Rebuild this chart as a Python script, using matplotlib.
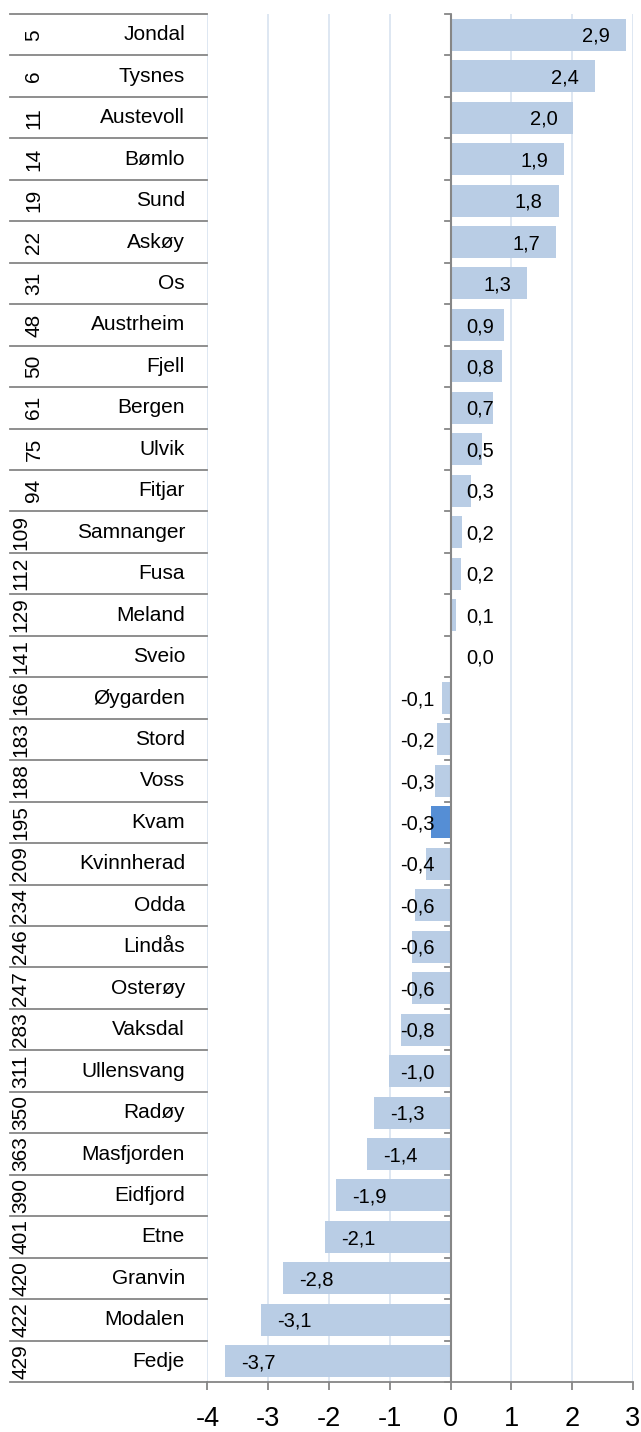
import matplotlib
matplotlib.use("Agg")
import matplotlib.pyplot as plt
import matplotlib.transforms as mtransforms

plt.rcParams['font.family'] = ['Liberation Sans', 'DejaVu Sans']

#--- data ---#
ranks = [5, 6, 11, 14, 19, 22, 31, 48, 50, 61, 75, 94, 109, 112, 129, 141, 166,
         183, 188, 195, 209, 234, 246, 247, 283, 311, 350, 363, 390, 401, 420, 422, 429]
names = ["Jondal", "Tysnes", "Austevoll", "Bømlo", "Sund", "Askøy", "Os", "Austrheim",
         "Fjell", "Bergen", "Ulvik", "Fitjar", "Samnanger", "Fusa", "Meland", "Sveio",
         "Øygarden", "Stord", "Voss", "Kvam", "Kvinnherad", "Odda", "Lindås", "Osterøy",
         "Vaksdal", "Ullensvang", "Radøy", "Masfjorden", "Eidfjord", "Etne", "Granvin",
         "Modalen", "Fedje"]
values = [2.88, 2.37, 2.02, 1.87, 1.78, 1.73, 1.26, 0.87, 0.84, 0.69, 0.52, 0.33, 0.19,
          0.17, 0.09, 0.0, -0.14, -0.23, -0.26, -0.32, -0.41, -0.59, -0.64, -0.64, -0.82,
          -1.02, -1.26, -1.37, -1.88, -2.06, -2.76, -3.12, -3.71]
highlight = "Kvam"
xticks = [-4, -3, -2, -1, 0, 1, 2, 3]

#--- colours ---#
bar_col = "#b9cde5"
hl_col = "#558ed5"
grid_col = "#dbe5f1"
line_col = "#868686"

W, H = 641, 1432
L, R, T, B = 207.5, 633, 14, 1382

fig = plt.figure(figsize=(W / 100, H / 100), dpi=100)
ax = fig.add_axes([L / W, 1 - B / H, (R - L) / W, (B - T) / H])

def px_to_ax(px):
    return (px - L) / (R - L)

n = len(names)
ypos = list(range(n))
colors = [hl_col if nm == highlight else bar_col for nm in names]
ax.barh(ypos, values, height=0.77, color=colors, zorder=2)

ax.set_xlim(xticks[0], xticks[-1])
ax.set_ylim(n - 0.5, -0.5)

# gridlines
ax.set_xticks(xticks)
ax.set_xticklabels([str(x) for x in xticks])
ax.grid(axis='x', color=grid_col, lw=1.3, zorder=0)
ax.set_axisbelow(True)

for s in ['left', 'right', 'top']:
    ax.spines[s].set_visible(False)
ax.spines['bottom'].set_color(line_col)
ax.spines['bottom'].set_linewidth(1.3)
ax.tick_params(axis='x', direction='out', length=6, width=1.3, color=line_col,
               labelsize=19.5, pad=11)

# y axis at zero with ticks at row boundaries
ax.axvline(0, color=line_col, lw=1.5, zorder=3)
ax.set_yticks([])
tr_y = mtransforms.blended_transform_factory(ax.transAxes, ax.transData)
tick_len = 6 / (R - L)
for b in range(n + 1):
    yb = b - 0.5
    ax.plot([px_to_ax(450.7) - tick_len, px_to_ax(450.7)], [yb, yb], color=line_col,
            lw=1.3, transform=tr_y, clip_on=False, zorder=3)
    # category separators on the left
    ax.plot([px_to_ax(10), 0], [yb, yb], color=line_col, lw=1.3,
            transform=tr_y, clip_on=False)

# category labels
for i in range(n):
    ax.text(px_to_ax(185), i, names[i], ha='right', va='center', fontsize=15,
            transform=tr_y)
    rx = 21 if len(str(ranks[i])) >= 3 else 34
    ax.text(px_to_ax(rx), i, str(ranks[i]), ha='center', va='center', fontsize=15,
            rotation=90, transform=tr_y)

# value labels (inside end, pushed out from the axis when bar is short)
fig.canvas.draw()
renderer = fig.canvas.get_renderer()
ppu = ax.transData.transform((1, 0))[0] - ax.transData.transform((0, 0))[0]
pad = 16 / ppu
for i, v in enumerate(values):
    lab = f"{v:.1f}".replace(".", ",")
    t = ax.text(0, i + 0.04, lab, va='center', fontsize=14.5, zorder=4)
    w = t.get_window_extent(renderer).width / ppu
    if v >= 0:
        t.set_x(max(v - pad, pad + w))
        t.set_ha('right')
    else:
        t.set_x(min(v + pad, -pad - w))
        t.set_ha('left')

fig.savefig("out.png", dpi=100)
